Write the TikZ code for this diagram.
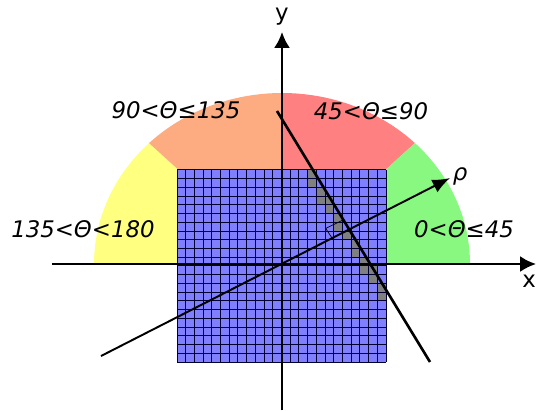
\documentclass[tikz,border=0pt]{standalone}
\usepackage{fontspec}
\setmainfont{DejaVu Sans}
\usetikzlibrary{arrows.meta}
\definecolor{secyellow}{RGB}{255,255,128}
\definecolor{secorange}{RGB}{252,172,128}
\definecolor{secred}{RGB}{255,128,128}
\definecolor{secgreen}{RGB}{136,248,128}
\definecolor{gridblue}{RGB}{128,128,255}
\definecolor{cellgray}{RGB}{128,128,128}

\begin{document}
\begin{tikzpicture}[x=0.02cm, y=0.02cm, every node/.style={font=\fontsize{13}{15}\selectfont\itshape},
  gridline/.style={draw=blue!20!black, line width=0.55pt},
  axis/.style={line width=1.3pt, -{Latex[length=9pt, width=9pt]}}]
  \useasboundingbox (-282,-146) rectangle (254,264);

  % Angle sectors
  \fill[secyellow] (0,0) -- (-188,0) arc[start angle=180, end angle=135, x radius=188, y radius=171] -- cycle;
  \fill[secorange] (0,0) -- (135:188 and 171) arc[start angle=135, end angle=90, x radius=188, y radius=171] -- cycle;
  \fill[secred] (0,0) -- (0,171) arc[start angle=90, end angle=45, x radius=188, y radius=171] -- cycle;
  \fill[secgreen] (0,0) -- (45:188 and 171) arc[start angle=45, end angle=0, x radius=188, y radius=171] -- cycle;
  \node (s1) at (-106,154) {90<Θ≤135};
  \node (s2) at (89,153) {45<Θ≤90};
  \node (s3) at (-199,35) {135<Θ<180};
  \node (s4) at (182,35) {0<Θ≤45};

  % Accumulator grid
  \fill[gridblue] (-105,-98) rectangle (104,94);
  \foreach \i/\j in {15/0,15/1,16/2,16/3,17/3,17/4,18/5,18/6,19/7,20/8,20/9,21/10,21/11,22/11,22/12,23/13,23/14}
    \fill[cellgray] (-105+\i*8.71,94-\j*8.73) rectangle ++(8.71,-8.73);
  \foreach \i in {0,...,24} \draw[gridline] (-105+\i*8.71,-98) -- ++(0,192);
  \foreach \j in {0,...,22} \draw[gridline] (-105,-98+\j*8.73) -- ++(209,0);

  % Axes
  \coordinate (xS) at (-230,0);
  \coordinate (xE) at (254,0);
  \coordinate (yS) at (0,-146);
  \coordinate (yE) at (0,232);
  \draw[axis] (xS) -- (xE);
  \draw[axis] (yS) -- (yE);
  \node[font=\fontsize{13}{15}\selectfont] (xlab) at (247,-17) {x};
  \node[font=\fontsize{13}{15}\selectfont] (ylab) at (0,247) {y};

  % Normal vector and line
  \coordinate (rhoS) at (-181,-92);
  \coordinate (rhoE) at (168,86);
  \draw[line width=1.1pt, -{Latex[length=10pt, width=8pt]}] (rhoS) -- (rhoE);
  \node (rho) at (178,88) {ρ};
  \coordinate (lS) at (-5,153);
  \coordinate (lE) at (148,-98);
  \draw[line width=1.5pt] (lS) -- (lE);

  % Right angle mark
  \coordinate (mA) at (50,26);
  \coordinate (mC) at (43.7,35.6);
  \coordinate (mB) at (61,44);
  \draw[line width=0.4pt] (mA) -- (mC) -- (mB);
\end{tikzpicture}
\end{document}
